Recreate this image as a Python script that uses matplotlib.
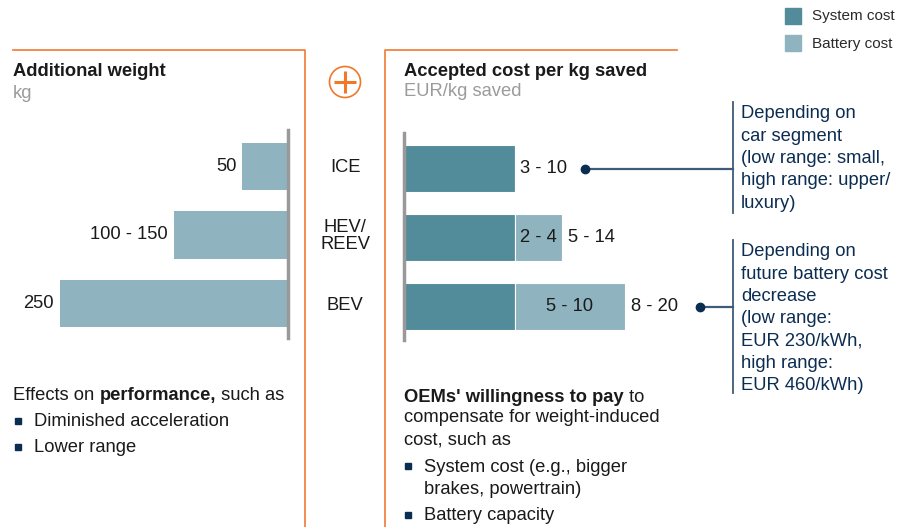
import matplotlib.pyplot as plt
from matplotlib.patches import Rectangle, Circle

plt.rcParams['font.family'] = ['Liberation Sans', 'DejaVu Sans']

# data
categories = ['ICE', 'HEV/\nREEV', 'BEV']
weight = [50, 125, 250]
weight_labels = ['50', '100 - 150', '250']
system_cost = [6.5, 6.5, 6.5]
battery_cost = [0, 2.8, 6.5]
battery_labels = ['', '2 - 4', '5 - 10']
total_labels = ['3 - 10', '5 - 14', '8 - 20']
note_segment = ['Depending on', 'car segment', '(low range: small,',
                'high range: upper/', 'luxury)']
note_battery = ['Depending on', 'future battery cost', 'decrease', '(low range:',
                'EUR 230/kWh,', 'high range:', 'EUR 460/kWh)']

c_sys = '#528b99'
c_bat = '#8fb3bf'
c_orange = '#f28443'
c_plus = '#f07828'
c_navy = '#0c2d52'
c_conn = '#3f5b78'
c_text = '#1a1a1a'
c_grey = '#9b9b9b'
fs = 13.2

W, H = 899, 527
fig = plt.figure(figsize=(W / 100, H / 100), dpi=100)

# background axes in pixel coords
bg = fig.add_axes([0, 0, 1, 1])
bg.set_xlim(0, W)
bg.set_ylim(H, 0)
bg.axis('off')


def px_axes(x0, y0, x1, y1):
    return fig.add_axes([x0 / W, 1 - y1 / H, (x1 - x0) / W, (y1 - y0) / H])


# frames
bg.plot([13, 305, 305], [50, 50, H], color=c_orange, lw=1.3)
bg.plot([677, 385, 385], [50, 50, H], color=c_orange, lw=1.3)
bg.add_patch(Circle((345, 82), 15.5, fill=False, ec=c_plus, lw=1.2))
bg.plot([334, 356], [82, 82], color=c_plus, lw=2.2, solid_capstyle='butt')
bg.plot([345, 345], [71, 93], color=c_plus, lw=2.2, solid_capstyle='butt')

# headers
bg.text(13, 72, 'Additional weight', fontsize=fs, weight='bold', color=c_text, va='center')
bg.text(13, 94, 'kg', fontsize=fs, color=c_grey, va='center')
bg.text(404, 72, 'Accepted cost per kg saved', fontsize=fs, weight='bold', color=c_text, va='center')
bg.text(404, 92, 'EUR/kg saved', fontsize=fs, color=c_grey, va='center')

# legend
bg.add_patch(Rectangle((785, 8), 16, 16, color=c_sys))
bg.add_patch(Rectangle((785, 35), 16, 16, color=c_bat))
bg.text(812, 16, 'System cost', fontsize=11, color='#2a2a2a', va='center')
bg.text(812, 44, 'Battery cost', fontsize=11, color='#2a2a2a', va='center')

# left chart: additional weight
ax_l = px_axes(14, 130, 288, 338)
ypos = range(len(categories))
ax_l.barh(ypos, weight, height=0.69, color=c_bat)
ax_l.set_xlim(300, 0)
ax_l.set_ylim(2.504, -0.533)
for i, (v, lab) in enumerate(zip(weight, weight_labels)):
    ax_l.annotate(lab, (v, i), xytext=(-6, 0), textcoords='offset pixels',
                  ha='right', va='center', fontsize=fs, color=c_text)
for s in ['top', 'left', 'bottom']:
    ax_l.spines[s].set_visible(False)
ax_l.spines['right'].set_color('#999999')
ax_l.spines['right'].set_linewidth(2.5)
ax_l.set_xticks([])
ax_l.set_yticks([])
ax_l.patch.set_alpha(0)

# right chart: accepted cost
ax_r = px_axes(404, 133, 659, 340)
ax_r.barh(ypos, system_cost, height=0.69, color=c_sys, edgecolor='white', linewidth=0.8)
ax_r.barh(ypos, battery_cost, left=system_cost, height=0.69, color=c_bat,
          edgecolor='white', linewidth=0.8)
ax_r.set_xlim(0, 15)
ax_r.set_ylim(2.486, -0.514)
for i in ypos:
    tot = system_cost[i] + battery_cost[i]
    if battery_labels[i]:
        ax_r.text(system_cost[i] + battery_cost[i] / 2, i, battery_labels[i],
                  ha='center', va='center', fontsize=fs, color=c_text)
    ax_r.annotate(total_labels[i], (tot, i), xytext=(6, 0), textcoords='offset pixels',
                  ha='left', va='center', fontsize=fs, color=c_text)
for s in ['top', 'right', 'bottom']:
    ax_r.spines[s].set_visible(False)
ax_r.spines['left'].set_color('#999999')
ax_r.spines['left'].set_linewidth(2.5)
ax_r.set_xticks([])
ax_r.set_yticks([])
ax_r.patch.set_alpha(0)

# category labels
for i, cat in enumerate(categories):
    bg.text(345, 167 + 69 * i, cat, ha='center', va='center', fontsize=fs,
            color=c_text, multialignment='center', linespacing=1.05)

# annotations
bg.plot([585, 733], [169, 169], color=c_conn, lw=1.6)
bg.plot([585], [169], 'o', color=c_navy, ms=6)
bg.plot([733, 733], [102, 213], color=c_conn, lw=1.3)
for k, line in enumerate(note_segment):
    bg.text(741, 114 + 22.3 * k, line, fontsize=fs, color=c_navy, va='center')

bg.plot([700, 733], [307, 307], color=c_conn, lw=1.6)
bg.plot([700], [307], 'o', color=c_navy, ms=6)
bg.plot([733, 733], [240, 393], color=c_conn, lw=1.3)
for k, line in enumerate(note_battery):
    bg.text(741, 252 + 22.2 * k, line, fontsize=fs, color=c_navy, va='center')

# bottom texts left
t = bg.text(13, 396, 'Effects on ', fontsize=fs, color=c_text, va='center')
t = bg.annotate('performance,', xy=(1, 0.5), xycoords=t, va='center', ha='left',
                fontsize=fs, weight='bold', color=c_text)
bg.annotate(' such as', xy=(1, 0.5), xycoords=t, va='center', ha='left',
            fontsize=fs, color=c_text)
for k, line in enumerate(['Diminished acceleration', 'Lower range']):
    y = 422 + 26 * k
    bg.plot([18], [y - 1.5], 's', color=c_navy, ms=3.8)
    bg.text(34, y, line, fontsize=fs, color=c_text, va='center')

# bottom texts right
t = bg.text(404, 397, "OEMs' willingness to pay", fontsize=fs, weight='bold',
            color=c_text, va='center')
bg.annotate(' to', xy=(1, 0.5), xycoords=t, va='center', ha='left',
            fontsize=fs, color=c_text)
bg.text(404, 418, 'compensate for weight-induced', fontsize=fs, color=c_text, va='center')
bg.text(404, 440, 'cost, such as', fontsize=fs, color=c_text, va='center')
bg.plot([408], [465.5], 's', color=c_navy, ms=3.8)
bg.text(424, 467, 'System cost (e.g., bigger', fontsize=fs, color=c_text, va='center')
bg.text(424, 489, 'brakes, powertrain)', fontsize=fs, color=c_text, va='center')
bg.plot([408], [514.5], 's', color=c_navy, ms=3.8)
bg.text(424, 516, 'Battery capacity', fontsize=fs, color=c_text, va='center')

fig.savefig('out.png', dpi=100)
